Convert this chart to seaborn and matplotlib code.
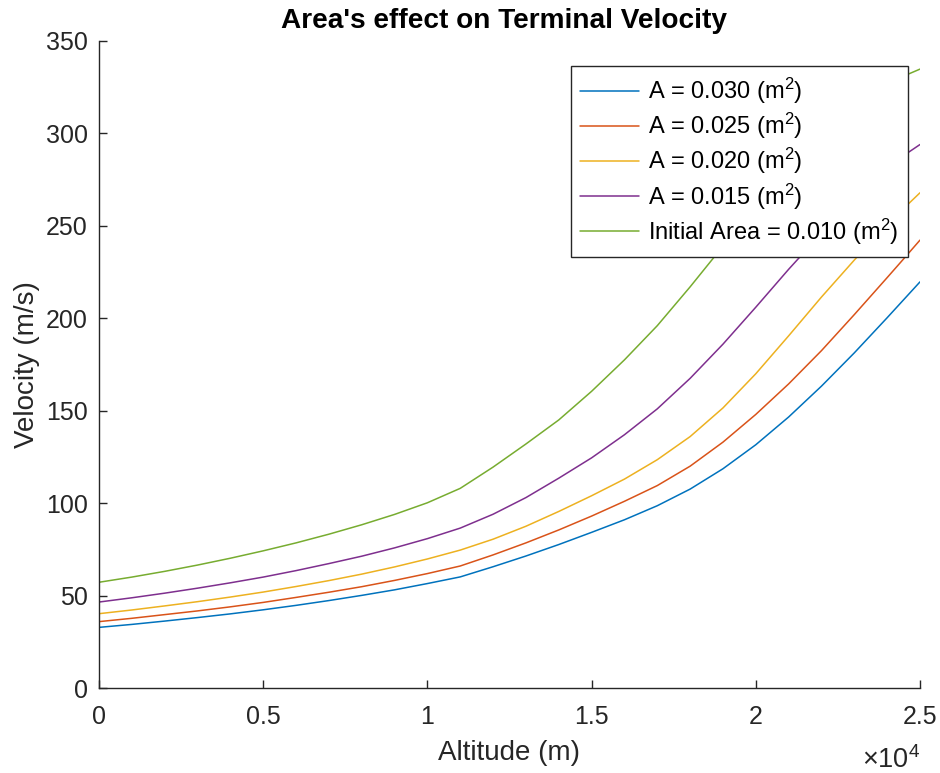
import matplotlib
matplotlib.use("Agg")
import matplotlib.pyplot as plt
import pandas as pd
import seaborn as sns
from matplotlib.ticker import FuncFormatter, MultipleLocator

# altitude samples (m) and velocities (m/s)
altitude = [0, 1000, 2000, 3000, 4000, 5000, 6000, 7000, 8000, 9000, 10000, 11000, 12000,
            13000, 14000, 15000, 16000, 17000, 18000, 19000, 20000, 21000, 22000, 23000, 24000,
            24500, 25000]

v_a030 = [32.8, 34.4, 36.2, 38.1, 40.1, 42.3, 44.7, 47.3, 50.1, 53.1, 56.5, 60.1, 65.6,
          71.4, 77.6, 84.2, 91.0, 98.6, 107.6, 118.6, 131.6, 146.6, 163.3, 181.3, 200.3,
          210.0, 219.7]
v_a025 = [35.9, 37.7, 39.7, 41.7, 43.9, 46.3, 49.0, 51.8, 54.8, 58.2, 61.9, 66.0, 72.0,
          78.5, 85.5, 93.0, 101.0, 109.5, 120.0, 133.0, 148.0, 164.5, 182.5, 202.0, 222.0,
          232.1, 242.3]
v_a020 = [40.2, 42.2, 44.4, 46.7, 49.2, 51.9, 54.9, 58.1, 61.6, 65.5, 69.8, 74.6, 80.5,
          87.5, 95.5, 104.0, 113.0, 123.5, 136.0, 151.5, 170.0, 190.5, 211.5, 231.5, 250.8,
          259.4, 267.9]
v_a015 = [46.5, 48.8, 51.3, 54.0, 56.9, 60.0, 63.5, 67.3, 71.3, 75.8, 80.8, 86.5, 94.0,
          103.0, 113.5, 124.5, 137.0, 151.0, 167.5, 186.0, 206.0, 226.5, 246.0, 264.5, 281.0,
          288.0, 294.0]
v_a010 = [57.2, 60.0, 63.1, 66.5, 70.2, 74.2, 78.5, 83.2, 88.3, 93.9, 100.2, 108.0, 119.5,
          132.0, 145.0, 160.5, 177.5, 196.0, 217.0, 239.0, 260.5, 280.5, 297.5, 313.0, 326.0,
          331.0, 334.8]

labels = [
    "A = 0.030 (m$^2$)",
    "A = 0.025 (m$^2$)",
    "A = 0.020 (m$^2$)",
    "A = 0.015 (m$^2$)",
    "Initial Area = 0.010 (m$^2$)",
]
colors = ["#0072BD", "#D95319", "#EDB120", "#7E2F8E", "#77AC30"]

frames = []
for lab, vals in zip(labels, [v_a030, v_a025, v_a020, v_a015, v_a010]):
    frames.append(pd.DataFrame({"altitude": altitude, "velocity": vals, "series": lab}))
df = pd.concat(frames, ignore_index=True)

sns.set_theme(style="white")
plt.rcParams["font.family"] = ["Liberation Sans", "DejaVu Sans"]
plt.rcParams["mathtext.fontset"] = "custom"
plt.rcParams["mathtext.rm"] = "Liberation Sans"
plt.rcParams["mathtext.it"] = "Liberation Sans:italic"

text_color = "#262626"

fig = plt.figure(figsize=(9.4, 7.73), dpi=100)
ax = fig.add_axes([99 / 940, 85 / 773, 821 / 940, 647 / 773])

sns.lineplot(data=df, x="altitude", y="velocity", hue="series", hue_order=labels,
             palette=colors, linewidth=1.1, ax=ax)

ax.set_xlim(0, 25000)
ax.set_ylim(0, 350)
ax.xaxis.set_major_locator(MultipleLocator(5000))
ax.yaxis.set_major_locator(MultipleLocator(50))
ax.xaxis.set_major_formatter(FuncFormatter(lambda x, pos: f"{x / 1e4:g}"))

for side in ["top", "right"]:
    ax.spines[side].set_visible(False)
for side in ["left", "bottom"]:
    ax.spines[side].set_color(text_color)
    ax.spines[side].set_linewidth(1.0)

ax.tick_params(axis="both", direction="in", length=6, width=1.0, color=text_color,
               labelcolor=text_color, labelsize=18, bottom=True, left=True)
ax.tick_params(axis="x", pad=12)
ax.tick_params(axis="y", pad=8)

ax.set_xlabel("Altitude (m)", fontsize=20, color=text_color, labelpad=8)
ax.set_ylabel("Velocity (m/s)", fontsize=20, color=text_color, labelpad=4)
ax.set_title("Area's effect on Terminal Velocity", fontsize=20.2, fontweight="bold",
             color="black", pad=9, x=0.4933)

ax.text(1.0, -0.112, r"$\times10^{4}$", transform=ax.transAxes, ha="right", va="center",
        fontsize=19.5, color=text_color)

handles, _ = ax.get_legend_handles_labels()
leg = ax.legend(handles, labels, loc="upper right", bbox_to_anchor=(908 / 940, 1 - 66 / 773),
                bbox_transform=fig.transFigure, fontsize=17, frameon=True, fancybox=False,
                framealpha=1.0, edgecolor=text_color, handlelength=2.5, handletextpad=0.35,
                labelspacing=0.21, borderpad=0.42, borderaxespad=0)
leg.get_frame().set_linewidth(1.0)
for t in leg.get_texts():
    t.set_color("black")

ax.grid(False)
fig.savefig("out.png", dpi=100, facecolor="white")
